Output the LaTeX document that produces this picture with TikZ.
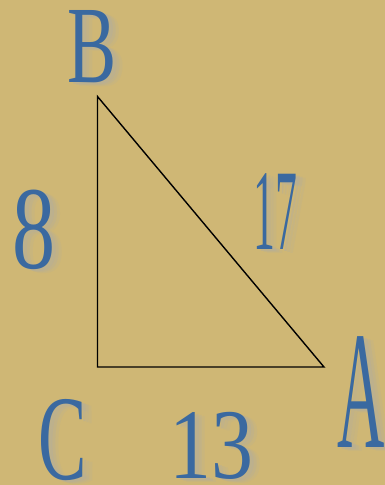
\documentclass[tikz,border=0pt]{standalone}
\usepackage{fontspec}
\setmainfont{Liberation Serif}
\definecolor{bgtan}{HTML}{CFB775}
\definecolor{lblblue}{HTML}{3A69A0}
\definecolor{shadowgrey}{HTML}{B4AE9C}
\tikzset{
  lbl/.style={inner sep=0pt, outer sep=0pt, text=lblblue},
  lblshadow/.style={inner sep=0pt, outer sep=0pt, text=shadowgrey},
  edge/.style={draw=black, line width=1.4pt, line join=miter}
}
\newcommand{\shadowlabel}[6]{%
  \node[lblshadow, opacity=0.2, xscale=#5] (#1-s3) at (#2+10,#3+4) {\fontsize{#4}{#4}\selectfont #6};
  \node[lblshadow, opacity=0.3, xscale=#5] (#1-s2) at (#2+7,#3+3) {\fontsize{#4}{#4}\selectfont #6};
  \node[lblshadow, opacity=0.45, xscale=#5] (#1-s1) at (#2+4,#3+2) {\fontsize{#4}{#4}\selectfont #6};
  \node[lbl, xscale=#5] (#1) at (#2,#3) {\fontsize{#4}{#4}\selectfont #6};
}
\begin{document}
\begin{tikzpicture}[x=1pt,y=-1pt]
  \fill[bgtan] (0,0) rectangle (385,485);
  \useasboundingbox (0,0) rectangle (385,485);
  \coordinate (B) at (97.5,96.5);
  \coordinate (C) at (97.5,367);
  \coordinate (A) at (324,367);
  \draw[edge] (B) -- (C) -- (A) -- cycle;
  \shadowlabel{labB}{92.5}{46.5}{110}{0.67}{B}
  \shadowlabel{lab8}{34}{230}{118}{0.73}{8}
  \shadowlabel{lab17}{275}{212}{115}{0.38}{17}
  \shadowlabel{labA}{361}{392.5}{168}{0.39}{A}
  \shadowlabel{labC}{62.5}{440}{121}{0.6}{C}
  \shadowlabel{lab13}{211}{446}{100}{0.84}{13}
\end{tikzpicture}
\end{document}
